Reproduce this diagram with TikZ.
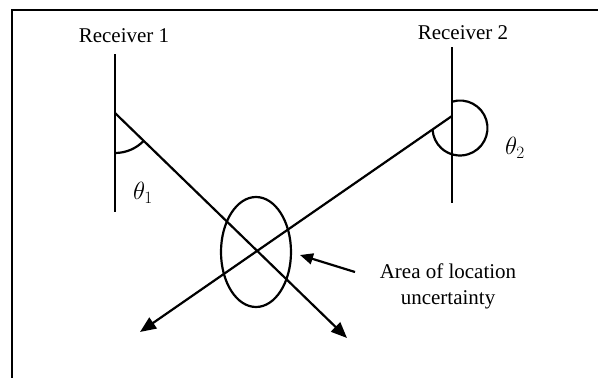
\documentclass[tikz,border=0pt]{standalone}
\usepackage{fontspec}
\setmainfont{Liberation Serif}
\usepackage{tikz}
\usetikzlibrary{arrows.meta, calc, shapes.geometric, positioning}
\tikzset{
  frame/.style   ={line width=1.8pt},
  rcv/.style     ={line width=2.2pt},                                   % receiver axis
  bearing/.style ={-{Triangle[length=16pt, width=13pt]}, line width=2.2pt}, % line of bearing
  pointer/.style ={-{Triangle[length=13pt, width=11pt]}, line width=2.2pt},
  ang/.style     ={line width=2.2pt},
  lbl/.style     ={font=\fontsize{21}{26}\selectfont, inner sep=0pt},
  thlbl/.style   ={font=\fontsize{25}{28}\selectfont, inner sep=0pt},
  area/.style    ={draw, ellipse, line width=2.2pt, minimum width=70pt, minimum height=110pt, inner sep=0pt},
}

\begin{document}
\begin{tikzpicture}[x=1pt, y=-1pt]
  \useasboundingbox (0,0) rectangle (598,378);
  % frame (only left and top edges show)
  \coordinate (fbl) at (12,378);
  \coordinate (ftl) at (12,10);
  \coordinate (ftr) at (598,10);
  \draw[frame] (fbl) -- (ftl) -- (ftr);

  % receivers
  \node[lbl] (r1) at (124,36) {Receiver 1};
  \node[lbl] (r2) at (463,33) {Receiver 2};
  \coordinate (r1top) at (115,54);
  \coordinate (r1bot) at (115,212);
  \coordinate (r2top) at (452,47);
  \coordinate (r2bot) at (452,203);
  \draw[rcv] (r1top) -- (r1bot);
  \draw[rcv] (r2top) -- (r2bot);

  % bearings
  \coordinate (v1) at (115,113);
  \coordinate (v2) at (452,116);
  \coordinate (e1) at (347,338);
  \coordinate (e2) at (140,332);
  \draw[bearing] (v1) -- (e1);
  \draw[bearing] (v2) -- (e2);

  % angles
  \draw[ang] (v1) ++(90:40) arc[start angle=90, end angle=44.1, radius=40];
  \coordinate (c2) at (460,128);
  \draw[ang] (c2) ++(-107:27.5) arc[start angle=-107, end angle=176, radius=27.5];
  \node[thlbl] (th1) at (143,193) {$\theta_1$};
  \node[thlbl] (th2) at (515,148) {$\theta_2$};

  % uncertainty
  \node[area] (ell) at (256,252) {};
  \node[lbl, align=center] (note) at (448,286) {Area of location\\uncertainty};
  \coordinate (tail) at (355,272);
  \coordinate (tip) at (300,255);
  \draw[pointer] (tail) -- (tip);
\end{tikzpicture}
\end{document}
